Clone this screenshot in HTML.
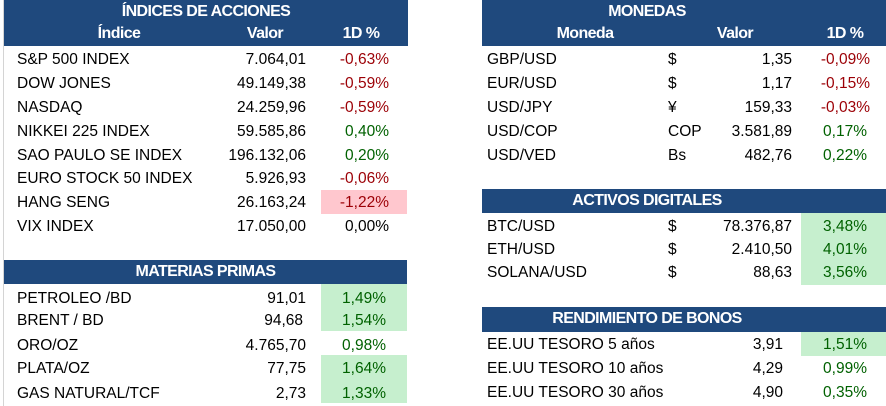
<!DOCTYPE html>
<html><head><meta charset="utf-8"><style>
*{margin:0;padding:0;box-sizing:border-box}
body{width:886px;height:406px;background:#fff;position:relative;overflow:hidden;font-family:"Liberation Sans",Arial,sans-serif;font-size:15.5px;color:#000}
.h{position:absolute;background:#1f497d;color:#fff;font-weight:bold;letter-spacing:-0.6px}
.t{position:absolute;line-height:18px;white-space:nowrap;top:0}
.r{text-align:right}
.red{color:#9c0006}.grn{color:#006100}
.gf{position:absolute;background:#c6efce}
.rf{position:absolute;background:#ffc7ce}
.c{position:absolute;line-height:24px;text-align:center;color:#fff;font-weight:bold;font-size:16px;letter-spacing:-0.6px}
</style></head><body>
<div style="position:absolute;left:3px;top:0;width:1px;height:406px;background:#d4d4d4"></div>
<!-- Indices -->
<div class="h" style="left:4px;top:0;width:404px;height:46px"></div>
<div class="c" style="left:4px;top:0;width:404px">ÍNDICES DE ACCIONES</div>
<div class="c" style="left:84px;top:22px;width:70px">Índice</div>
<div class="c" style="left:230px;top:22px;width:70px">Valor</div>
<div class="c" style="left:326px;top:22px;width:70px">1D %</div>
<div class="rf" style="left:321px;top:190px;width:86px;height:24px"></div>
<div class="t" style="left:17px;top:51px">S&amp;P 500 INDEX</div><div class="t r" style="right:580px;top:51px">7.064,01</div><div class="t r red" style="right:497px;top:51px">-0,63%</div>
<div class="t" style="left:17px;top:75px">DOW JONES</div><div class="t r" style="right:580px;top:75px">49.149,38</div><div class="t r red" style="right:497px;top:75px">-0,59%</div>
<div class="t" style="left:17px;top:99px">NASDAQ</div><div class="t r" style="right:580px;top:99px">24.259,96</div><div class="t r red" style="right:497px;top:99px">-0,59%</div>
<div class="t" style="left:17px;top:123px">NIKKEI 225 INDEX</div><div class="t r" style="right:580px;top:123px">59.585,86</div><div class="t r grn" style="right:497px;top:123px">0,40%</div>
<div class="t" style="left:17px;top:147px">SAO PAULO SE INDEX</div><div class="t r" style="right:580px;top:147px">196.132,06</div><div class="t r grn" style="right:497px;top:147px">0,20%</div>
<div class="t" style="left:17px;top:170px">EURO STOCK 50 INDEX</div><div class="t r" style="right:580px;top:170px">5.926,93</div><div class="t r red" style="right:497px;top:170px">-0,06%</div>
<div class="t" style="left:17px;top:194px">HANG SENG</div><div class="t r" style="right:580px;top:194px">26.163,24</div><div class="t r red" style="right:497px;top:194px">-1,22%</div>
<div class="t" style="left:17px;top:218px">VIX INDEX</div><div class="t r" style="right:580px;top:218px">17.050,00</div><div class="t r" style="right:497px;top:218px">0,00%</div>
<!-- Materias -->
<div class="h" style="left:4px;top:260px;width:403px;height:24px"></div>
<div class="c" style="left:4px;top:260px;width:403px">MATERIAS PRIMAS</div>
<div class="gf" style="left:321px;top:284px;width:86px;height:47px"></div>
<div class="gf" style="left:321px;top:355px;width:86px;height:48px"></div>
<div class="t" style="left:17px;top:290px">PETROLEO /BD</div><div class="t r" style="right:580px;top:290px">91,01</div><div class="t r grn" style="right:500px;top:290px">1,49%</div>
<div class="t" style="left:17px;top:312px">BRENT / BD</div><div class="t r" style="right:583px;top:312px">94,68</div><div class="t r grn" style="right:500px;top:312px">1,54%</div>
<div class="t" style="left:17px;top:337px">ORO/OZ</div><div class="t r" style="right:580px;top:337px">4.765,70</div><div class="t r grn" style="right:500px;top:337px">0,98%</div>
<div class="t" style="left:17px;top:360px">PLATA/OZ</div><div class="t r" style="right:580px;top:360px">77,75</div><div class="t r grn" style="right:500px;top:360px">1,64%</div>
<div class="t" style="left:17px;top:385px">GAS NATURAL/TCF</div><div class="t r" style="right:580px;top:385px">2,73</div><div class="t r grn" style="right:500px;top:385px">1,33%</div>
<!-- Monedas -->
<div class="h" style="left:482px;top:0;width:404px;height:46px"></div>
<div class="c" style="left:482px;top:0;width:330px">MONEDAS</div>
<div class="c" style="left:535px;top:22px;width:100px">Moneda</div>
<div class="c" style="left:700px;top:22px;width:70px">Valor</div>
<div class="c" style="left:810px;top:22px;width:70px">1D %</div>
<div class="t" style="left:487px;top:51px">GBP/USD</div><div class="t" style="left:668px;top:51px">$</div><div class="t r" style="right:94px;top:51px">1,35</div><div class="t r red" style="right:16px;top:51px">-0,09%</div>
<div class="t" style="left:487px;top:75px">EUR/USD</div><div class="t" style="left:668px;top:75px">$</div><div class="t r" style="right:94px;top:75px">1,17</div><div class="t r red" style="right:16px;top:75px">-0,15%</div>
<div class="t" style="left:487px;top:99px">USD/JPY</div><div class="t" style="left:668px;top:99px">¥</div><div class="t r" style="right:94px;top:99px">159,33</div><div class="t r red" style="right:16px;top:99px">-0,03%</div>
<div class="t" style="left:487px;top:123px">USD/COP</div><div class="t" style="left:668px;top:123px">COP</div><div class="t r" style="right:94px;top:123px">3.581,89</div><div class="t r grn" style="right:19px;top:123px">0,17%</div>
<div class="t" style="left:487px;top:147px">USD/VED</div><div class="t" style="left:668px;top:147px">Bs</div><div class="t r" style="right:94px;top:147px">482,76</div><div class="t r grn" style="right:19px;top:147px">0,22%</div>
<!-- Activos -->
<div class="h" style="left:482px;top:189px;width:404px;height:24px"></div>
<div class="c" style="left:482px;top:189px;width:330px">ACTIVOS DIGITALES</div>
<div class="gf" style="left:801px;top:213px;width:85px;height:72px"></div>
<div class="t" style="left:487px;top:218px">BTC/USD</div><div class="t" style="left:668px;top:218px">$</div><div class="t r" style="right:94px;top:218px">78.376,87</div><div class="t r grn" style="right:19px;top:218px">3,48%</div>
<div class="t" style="left:487px;top:241px">ETH/USD</div><div class="t" style="left:668px;top:241px">$</div><div class="t r" style="right:94px;top:241px">2.410,50</div><div class="t r grn" style="right:19px;top:241px">4,01%</div>
<div class="t" style="left:487px;top:264px">SOLANA/USD</div><div class="t" style="left:668px;top:264px">$</div><div class="t r" style="right:94px;top:264px">88,63</div><div class="t r grn" style="right:19px;top:264px">3,56%</div>
<!-- Bonos -->
<div class="h" style="left:482px;top:307px;width:404px;height:25px"></div>
<div class="c" style="left:482px;top:307px;width:330px">RENDIMIENTO DE BONOS</div>
<div class="gf" style="left:801px;top:332px;width:85px;height:24px"></div>
<div class="t" style="left:487px;top:336px">EE.UU TESORO 5 años</div><div class="t r" style="right:103px;top:336px">3,91</div><div class="t r grn" style="right:19px;top:336px">1,51%</div>
<div class="t" style="left:487px;top:360px">EE.UU TESORO 10 años</div><div class="t r" style="right:103px;top:360px">4,29</div><div class="t r grn" style="right:19px;top:360px">0,99%</div>
<div class="t" style="left:487px;top:384px">EE.UU TESORO 30 años</div><div class="t r" style="right:103px;top:384px">4,90</div><div class="t r grn" style="right:19px;top:384px">0,35%</div>
</body></html>
